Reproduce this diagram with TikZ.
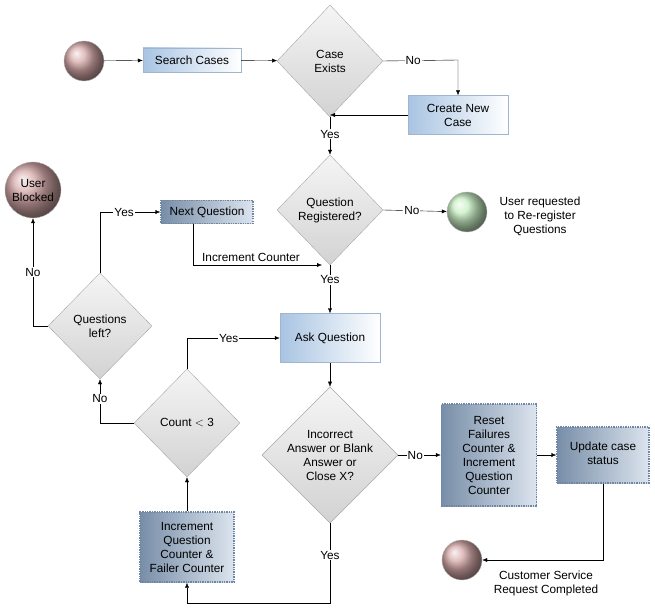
\documentclass[tikz,border=0pt]{standalone}
\usepackage{fontspec}
\setmainfont{Liberation Sans}
\usetikzlibrary{shapes.geometric,arrows.meta}
\definecolor{bxl}{RGB}{168,196,226}
\definecolor{dbl}{RGB}{120,142,168}
\definecolor{dbr}{RGB}{220,228,238}
\definecolor{dbd}{RGB}{110,135,165}
\definecolor{pinkb}{RGB}{215,170,170}
\definecolor{grnb}{RGB}{200,238,195}
\begin{document}
\begin{tikzpicture}[x=1pt,y=-1pt,font=\fontsize{11.8}{14}\selectfont,
  dia/.style={diamond,draw=gray!70,top color=gray!8,bottom color=gray!35,inner sep=0,align=center},
  box/.style={rectangle,draw=bxl!80!gray,left color=bxl,right color=white,align=center,inner sep=2pt},
  dbox/.style={rectangle,draw=dbd,densely dotted,line width=1.4pt,left color=dbl,right color=dbr,align=center,inner sep=2pt},
  ball/.style={circle,draw=gray!60,ball color=pinkb,shading=ball,inner sep=0,align=center},
  arr/.style={-{Latex[length=5pt,width=4pt]},black},
  lab/.style={fill=white,inner sep=1pt}]
\useasboundingbox (0,0) rectangle (655,612);
\node[ball,minimum size=40pt] (start) at (84,61) {};
\node[box,minimum width=98pt,minimum height=24pt] (search) at (192,60) {Search Cases};
\node[dia,minimum width=106pt,minimum height=112pt] (case) at (330,61) {Case\\Exists};
\node[box,minimum width=100pt,minimum height=39pt] (create) at (458,115) {Create New\\Case};
\node[dia,minimum width=106pt,minimum height=110pt] (qreg) at (330,210) {Question\\Registered?};
\node[circle,draw=gray!60,ball color=grnb,inner sep=0,minimum size=40pt] (green) at (467,212) {};
\node[align=center] (rereg) at (540,216) {User requested\\to Re-register\\Questions};
\node[dbox,minimum width=92pt,minimum height=23pt] (next) at (207,212) {Next Question};
\node[ball,minimum size=56pt] (blocked) at (33,190) {User\\Blocked};
\node[dia,minimum width=104pt,minimum height=106pt] (qleft) at (100,326) {Questions\\left?};
\node[box,minimum width=100pt,minimum height=49pt] (ask) at (330,338) {Ask Question};
\node[dia,minimum width=126pt,minimum height=122pt] (inc) at (330,455) {Incorrect\\Answer or Blank\\Answer or\\Close X?};
\node[dbox,minimum width=95pt,minimum height=102pt] (reset) at (489,455) {Reset\\Failures\\Counter \&\\Increment\\Question\\Counter};
\node[dbox,minimum width=92pt,minimum height=56pt] (update) at (603,455) {};
\node[align=center] (updlab) at (603,453) {Update case\\status};
\node[ball,minimum size=40pt] (end) at (462,560) {};
\node[align=center] (endlab) at (546,583) {Customer Service\\Request Completed};
\node[dia,minimum width=106pt,minimum height=108pt] (count) at (187,423) {Count $<$ 3};
\node[dbox,minimum width=94pt,minimum height=70pt] (incbox) at (187,547) {Increment\\Question\\Counter \&\\Failer Counter};
\coordinate (c1) at (458,60);
\coordinate (c2) at (193,265);
\coordinate (c3) at (330,265);
\coordinate (c4) at (100,212);
\coordinate (c5) at (33,326);
\coordinate (c6) at (187,338);
\coordinate (c7) at (100,423);
\coordinate (c8) at (330,603);
\coordinate (c9) at (187,603);
\coordinate (c10) at (603,560);
\draw[arr] (start) -- (search);
\draw[arr] (search) -- (case);
\draw[arr] (case.east) -- node[lab,pos=0.4]{No} (c1) -- (create.north);
\draw[arr] (create.west) -- (330,115);
\draw[arr] (case.south) -- node[lab,pos=0.45]{Yes} (qreg.north);
\draw[arr] (qreg.east) -- node[lab,pos=0.45]{No} (green);
\draw[arr] (qreg.south) -- node[lab,pos=0.3]{Yes} (ask.north);
\draw[arr] (next.south -| c2) -- (c2) -- node[above,pos=0.45]{Increment Counter} ([xshift=-8pt]c3);
\draw[arr] (qleft.north) -- (c4) -- node[lab,pos=0.4]{Yes} (next.west);
\draw[arr] (qleft.west) -- (c5) -- node[lab,pos=0.5]{No} (blocked.south);
\draw[arr] (ask.south) -- (inc.north);
\draw[arr] (inc.east) -- node[lab,pos=0.4]{No} (reset.west);
\draw[arr] (reset.east) -- (reset.east -| update.west);
\draw[arr] (update.south) -- (c10) -- (end.east);
\draw[arr] (inc.south) -- node[lab,pos=0.4]{Yes} (c8) -- (c9) -- (incbox.south);
\draw[arr] (incbox.north) -- (count.south);
\draw[arr] (count.north) -- (c6) -- node[lab,pos=0.45]{Yes} (ask.west);
\draw[arr] (count.west) -- (c7) -- node[lab,pos=0.55]{No} (qleft.south);
\end{tikzpicture}
\end{document}
